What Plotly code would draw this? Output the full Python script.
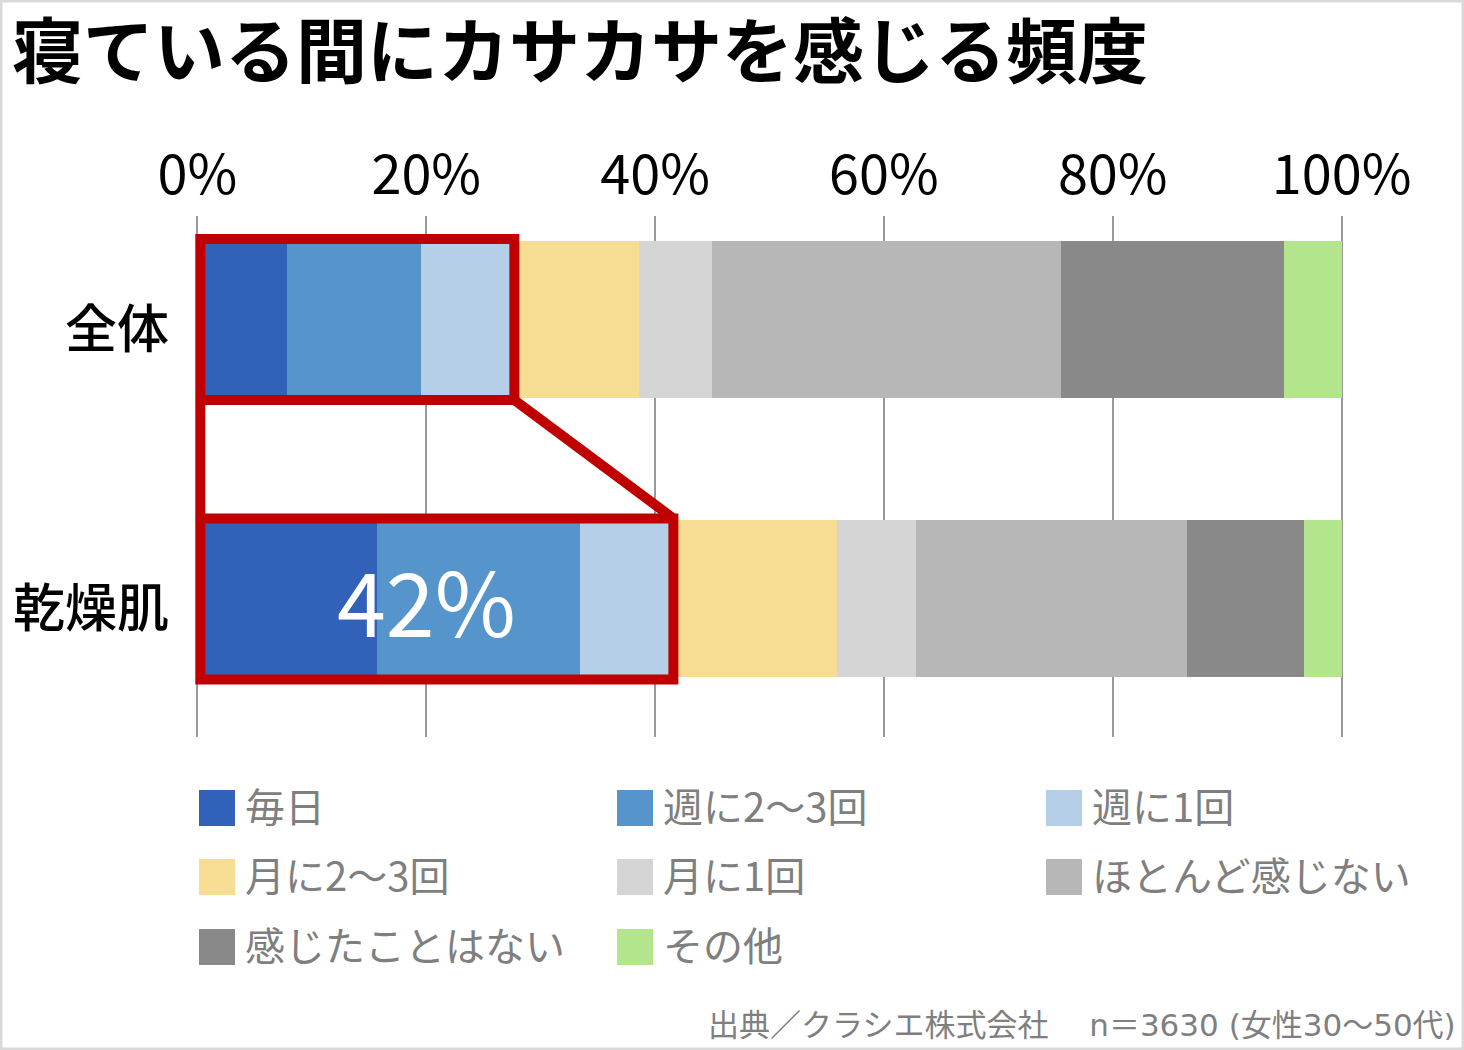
import plotly.graph_objects as go

# ---------------- data ----------------
categories = ["全体", "乾燥肌"]
series_names = ["毎日", "週に2〜3回", "週に1回", "月に2〜3回", "月に1回",
                "ほとんど感じない", "感じたことはない", "その他"]
series_colors = ["#3161b9", "#5695cc", "#b6cfe9", "#f6dd93", "#d5d5d5",
                 "#b7b7b7", "#898989", "#b3e68c"]
values_all = [7.8, 11.7, 8.6, 10.5, 6.4, 30.5, 19.5, 5.0]
values_dry = [15.7, 17.7, 8.6, 13.9, 6.9, 23.7, 10.2, 3.3]
tick_vals = [0, 20, 40, 60, 80, 100]
tick_text = ["0%", "20%", "40%", "60%", "80%", "100%"]

title_text = "寝ている間にカサカサを感じる頻度"
source_text = "出典／クラシエ株式会社　 n＝3630 (女性30〜50代)"

# ---------------- layout geometry ----------------
W, H = 1464, 1050
ML, MR, MT, MB = 194, 119, 216, 313
PW, PH = W - ML - MR, H - MT - MB
FONT = "Noto Sans CJK JP, Noto Sans, sans-serif"
FONT_NUM = "DejaVu Sans, Noto Sans CJK JP, sans-serif"
GRAY_TXT = "#7f7f7f"
RED = "#c00000"


def px2x(px):
    return (px - ML) / PW


def py2y(py):
    return 1 - (py - MT) / PH


fig = go.Figure()
ypos = list(range(len(categories)))
for i, name in enumerate(series_names):
    fig.add_trace(go.Bar(
        y=ypos,
        x=[values_all[i], values_dry[i]],
        orientation="h",
        name=name,
        width=0.562,
        marker=dict(color=series_colors[i], line=dict(width=0)),
        showlegend=False,
        hoverinfo="name+x",
    ))

# ---------------- red zoom callout ----------------
cum_all = sum(values_all[:3])
cum_dry = sum(values_dry[:3])
hw = 0.288
xl = 0.25
r1 = cum_all - 0.4
r2 = cum_dry - 0.4
path = (f"M {xl},{0 - hw} L {r1},{0 - hw} L {r1},{0 + hw} L {xl},{0 + hw} Z "
        f"M {xl},{1 - hw} L {r2},{1 - hw} L {r2},{1 + hw} L {xl},{1 + hw} Z "
        f"M {xl},{0 + hw} L {xl},{1 - hw} "
        f"M {r1},{0 + hw} L {r2},{1 - hw}")
fig.add_shape(type="path", path=path, xref="x", yref="y",
              line=dict(color=RED, width=10), fillcolor="rgba(0,0,0,0)",
              layer="above")

annotations = []
annotations.append(dict(
    x=20, y=1, xref="x", yref="y", text=f"{round(cum_dry)}%",
    showarrow=False, font=dict(family=FONT, size=88, color="white"),
    xanchor="center", yanchor="middle", yshift=0,
))

# ---------------- custom legend ----------------
col_x = [199, 617, 1046]
row_y = [808, 877, 947]
shapes = []
for i, name in enumerate(series_names):
    cx = col_x[i % 3]
    cy = row_y[i // 3]
    shapes.append(dict(type="rect", xref="paper", yref="paper",
                       x0=px2x(cx), x1=px2x(cx + 36),
                       y0=py2y(cy + 18), y1=py2y(cy - 18),
                       fillcolor=series_colors[i], line=dict(width=0)))
    annotations.append(dict(
        x=px2x(cx + 44), y=py2y(cy - 3), xref="paper", yref="paper",
        text=name, showarrow=False, xanchor="left", yanchor="middle",
        font=dict(family=FONT, size=40, color=GRAY_TXT),
    ))

# source
annotations.append(dict(
    x=px2x(1458), y=py2y(1025), xref="paper", yref="paper",
    text=source_text, showarrow=False, xanchor="right", yanchor="middle",
    font=dict(family=FONT_NUM, size=31, color=GRAY_TXT),
))

# frame around the whole image
shapes.append(dict(type="rect", xref="paper", yref="paper",
                   x0=px2x(1), x1=px2x(W - 1), y0=py2y(H - 1), y1=py2y(1),
                   line=dict(color="#d9d9d9", width=3), fillcolor="rgba(0,0,0,0)"))

for s in shapes:
    fig.add_shape(**s)

fig.update_layout(
    width=W, height=H,
    margin=dict(l=ML, r=MR, t=MT, b=MB, pad=0),
    paper_bgcolor="white", plot_bgcolor="white",
    barmode="stack",
    font=dict(family=FONT, color="black"),
    title=dict(text=f"<b>{title_text}</b>", x=12 / W, xref="container",
               xanchor="left", y=1 - 52 / H, yref="container",
               yanchor="middle", font=dict(family=FONT, size=71, color="black")),
    xaxis=dict(range=[-0.3, 100.3], side="top", tickvals=tick_vals,
               ticktext=tick_text, showgrid=True, gridcolor="#999999",
               gridwidth=2, zeroline=False, showline=False, ticks="",
               tickfont=dict(family=FONT, size=54, color="black"),
               ticklabelstandoff=10, fixedrange=True),
    yaxis=dict(range=[1.494, -0.370], tickvals=ypos, ticktext=categories,
               showgrid=False, zeroline=False, showline=False, ticks="",
               tickfont=dict(family=FONT, size=52, color="black", weight=500),
               ticklabelstandoff=24, ticklabelshift=-10, fixedrange=True),
    annotations=annotations,
    showlegend=False,
)

fig.write_html("out.html", config={"displayModeBar": False},
               post_script="document.body.style.margin='0';")
